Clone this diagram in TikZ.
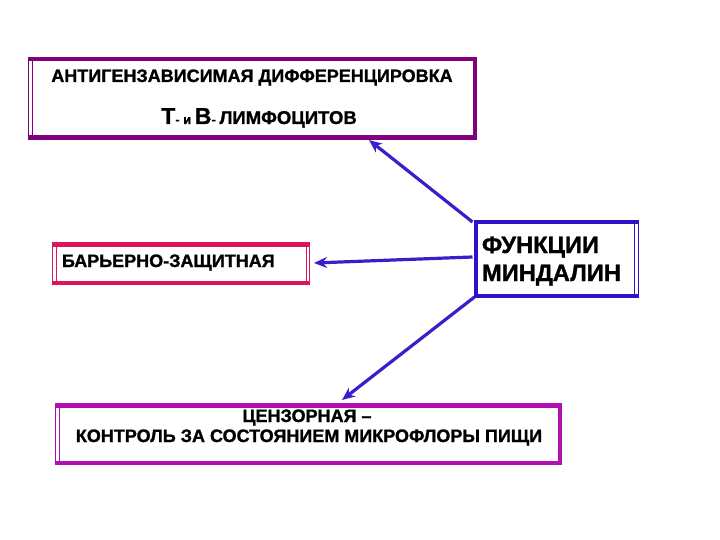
\documentclass[tikz,border=0pt]{standalone}
\usepackage{fontspec}
\setmainfont[BoldFeatures={FakeBold=1.2}]{Liberation Sans}
\usetikzlibrary{arrows.meta}
\definecolor{cpurple}{RGB}{128,0,128}
\definecolor{cred}{RGB}{222,20,90}
\definecolor{cblue}{RGB}{50,16,200}
\definecolor{cmag}{RGB}{176,16,176}
\definecolor{carrow}{RGB}{58,30,204}
\tikzset{
  box/.style={draw=none, inner sep=0pt, outer sep=0pt},
  txt/.style={inner sep=0pt, outer sep=0pt, font=\bfseries},
  conn/.style={carrow, line width=3.2pt, -{Stealth[length=13pt,width=11pt]}},
}
\newcommand{\thinframe}[2]{%
  \draw[#2, line width=1pt] ([shift={(0.5pt,0.5pt)}]#1.south west) rectangle ([shift={(-0.5pt,-0.5pt)}]#1.north east);
  \draw[#2, line width=1pt] ([shift={(4pt,4pt)}]#1.south west) rectangle ([shift={(-4pt,-4pt)}]#1.north east);}
\newcommand{\thicktop}[2]{\fill[#2] (#1.north west) rectangle ([yshift=-4.5pt]#1.north east);}
\newcommand{\thickbottom}[2]{\fill[#2] (#1.south west) rectangle ([yshift=4.5pt]#1.south east);}
\newcommand{\thickleft}[2]{\fill[#2] (#1.north west) rectangle ([xshift=4.5pt]#1.south west);}
\newcommand{\thickright}[2]{\fill[#2] (#1.north east) rectangle ([xshift=-4.5pt]#1.south east);}
\begin{document}
\begin{tikzpicture}[x=1pt,y=-1pt]
\useasboundingbox[fill=white] (0,0) rectangle (720,540);
% boxes
\node[box, minimum width=449pt, minimum height=83pt] (b1) at (252.5,98.5) {};
\node[box, minimum width=258pt, minimum height=43pt] (b2) at (181,263.5) {};
\node[box, minimum width=165pt, minimum height=78pt] (b3) at (556,259) {};
\node[box, minimum width=507pt, minimum height=62pt] (b4) at (308.5,434) {};
\thinframe{b1}{cpurple}\thicktop{b1}{cpurple}\thickright{b1}{cpurple}\thickbottom{b1}{cpurple}
\thinframe{b2}{cred}\thicktop{b2}{cred}\thickbottom{b2}{cred}
\thinframe{b3}{cblue}\thicktop{b3}{cblue}\thickleft{b3}{cblue}\thickbottom{b3}{cblue}
\thinframe{b4}{cmag}\thicktop{b4}{cmag}\thickright{b4}{cmag}\thickbottom{b4}{cmag}
% texts
\node[txt, anchor=base, font=\bfseries\fontsize{18}{20}\selectfont] (t1a) at (252,82) {АНТИГЕНЗАВИСИМАЯ ДИФФЕРЕНЦИРОВКА};
\node[txt, anchor=base, font=\bfseries\fontsize{18.5}{20}\selectfont] (t1b) at (259,124) {{\fontsize{23}{24}\selectfont Т}{\fontsize{13}{14}\selectfont - и }{\fontsize{23}{24}\selectfont В}{\fontsize{13}{14}\selectfont - }ЛИМФОЦИТОВ};
\node[txt, anchor=base west, font=\bfseries\fontsize{18}{20}\selectfont] (t2) at (62,267) {БАРЬЕРНО-ЗАЩИТНАЯ};
\node[txt, anchor=base west, font=\bfseries\fontsize{23.7}{26}\selectfont] (t3a) at (482,253) {ФУНКЦИИ};
\node[txt, anchor=base west, font=\bfseries\fontsize{23.7}{26}\selectfont] (t3b) at (482,281) {МИНДАЛИН};
\node[txt, anchor=base, font=\bfseries\fontsize{18}{20}\selectfont] (t4a) at (307,422) {ЦЕНЗОРНАЯ –};
\node[txt, anchor=base, font=\bfseries\fontsize{18}{20}\selectfont] (t4b) at (309,442) {КОНТРОЛЬ ЗА СОСТОЯНИЕМ МИКРОФЛОРЫ ПИЩИ};
% arrow ends
\coordinate (e1) at (369,140);
\coordinate (e2) at (314,263);
\coordinate (e3) at (342,400);
\draw[conn] ([shift={(-1pt,-2pt)}]b3.north west) -- (e1);
\draw[conn] ([shift={(-1pt,2pt)}]b3.west) -- (e2);
\draw[conn] ([shift={(1pt,1pt)}]b3.south west) -- (e3);
\end{tikzpicture}
\end{document}
